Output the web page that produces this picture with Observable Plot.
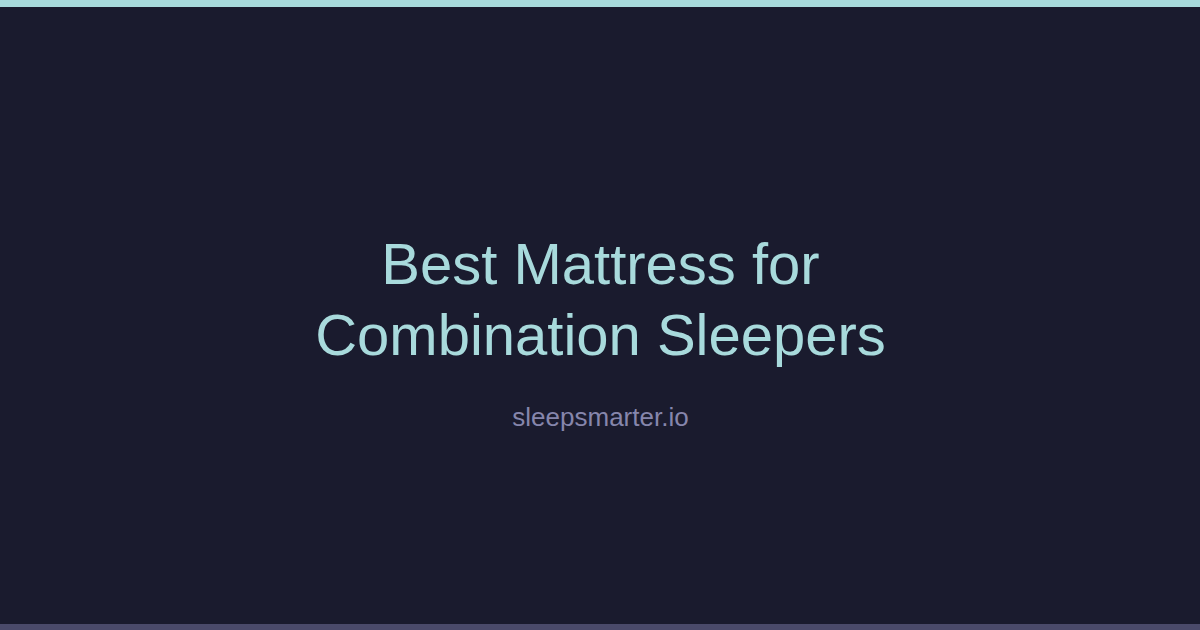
<!DOCTYPE html>
<html>
<head>
<meta charset="utf-8">
<script src="https://cdn.jsdelivr.net/npm/d3@7"></script>
<script src="https://cdn.jsdelivr.net/npm/@observablehq/plot@0.6"></script>
<style>
  html, body { margin: 0; padding: 0; background: #1a1b2e; }
  #chart svg { display: block; }
</style>
</head>
<body>
<div id="chart"></div>
<script>
const titleLines = ["Best Mattress for", "Combination Sleepers"];
const subtitle = ["sleepsmarter.io"];
const bars = ["top", "bottom"];

const W = 1200, H = 630;
const font = "'Liberation Sans', Arial, Helvetica, sans-serif";

const chart = Plot.plot({
  width: W,
  height: H,
  margin: 0,
  style: { background: "#1a1b2e", fontFamily: font },
  marks: [
    Plot.rect([bars[0]], { fill: "#a8dadc", insetBottom: H - 7 }),
    Plot.rect([bars[1]], { fill: "#4a4a6a", insetTop: H - 6 }),
    Plot.text([titleLines.join("\n")], {
      text: d => d,
      frameAnchor: "top",
      lineAnchor: "top",
      textAnchor: "middle",
      dy: 233,
      fontSize: 58,
      lineHeight: 71 / 58,
      fill: "#a8dadc",
      fontFamily: font
    }),
    Plot.text(subtitle, {
      text: d => d,
      frameAnchor: "top",
      lineAnchor: "top",
      textAnchor: "middle",
      dy: 407.5,
      fontSize: 26,
      fill: "#8686ac",
      fontFamily: font
    })
  ]
});
document.getElementById("chart").appendChild(chart);
</script>
</body>
</html>
